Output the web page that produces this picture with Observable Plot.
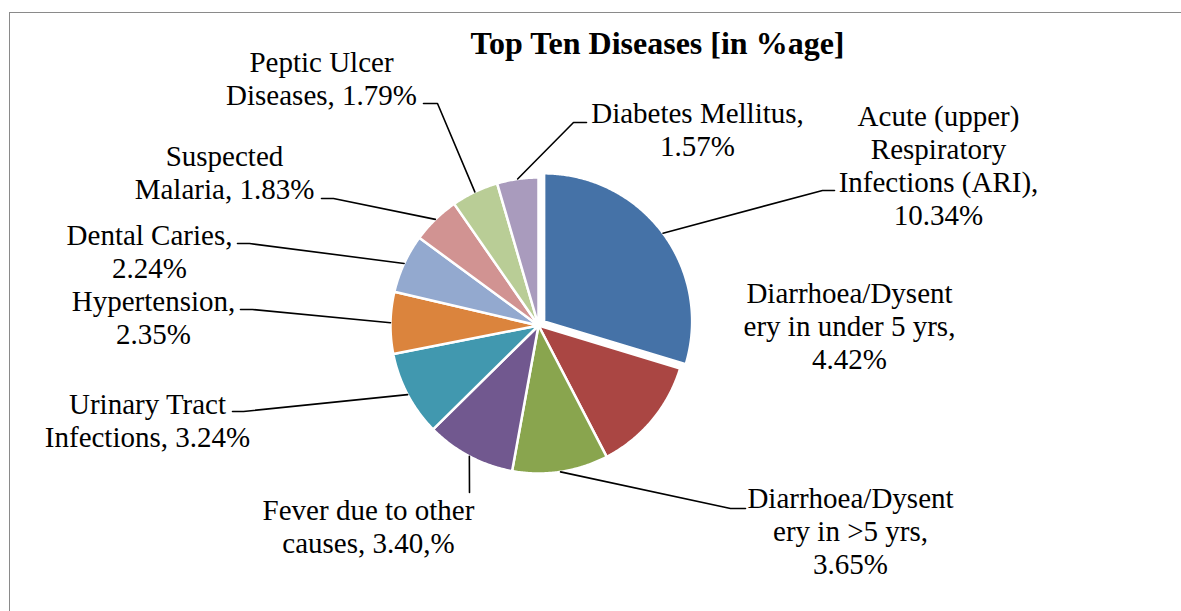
<!DOCTYPE html>
<html><head><meta charset="utf-8">
<script src="https://cdn.jsdelivr.net/npm/d3@7"></script>
<script src="https://cdn.jsdelivr.net/npm/@observablehq/plot@0.6"></script>
<style>
html,body{margin:0;padding:0;background:#fff;overflow:hidden;width:1181px;height:611px}
#wrap{position:relative;width:1181px;height:611px}
#border{position:absolute;left:9px;top:12px;width:1200px;height:700px;border-top:1.5px solid #8a8a8a;border-left:1.5px solid #8a8a8a;pointer-events:none}
#chart{position:absolute;left:0;top:0}
#chart svg, #chart svg text, #chart svg tspan{font-family:"Liberation Serif","Times New Roman",serif !important}
</style>
</head><body><div id="wrap"><div id="chart"></div><div id="border"></div></div>
<script>
// ---- data ----
const chartTitle = "Top Ten Diseases [in %age]";
const diseases = [
  "Acute (upper)\nRespiratory\nInfections (ARI),",
  "Diarrhoea/Dysent\nery in under 5 yrs,",
  "Diarrhoea/Dysent\nery in >5 yrs,",
  "Fever due to other\ncauses,",
  "Urinary Tract\nInfections,",
  "Hypertension,",
  "Dental Caries,",
  "Suspected\nMalaria,",
  "Peptic Ulcer\nDiseases,",
  "Diabetes Mellitus,"
];
const shares = [10.34, 4.42, 3.65, 3.40, 3.24, 2.35, 2.24, 1.83, 1.79, 1.57];
const shareLabels = ["10.34%", "4.42%", "3.65%", "3.40,%", "3.24%", "2.35%", "2.24%", "1.83%", "1.79%", "1.57%"];
// value joins the name on the same line (" ") or a new line ("\n")
const joiners = ["\n", "\n", "\n", " ", " ", "\n", "\n", " ", " ", "\n"];

// ---- style / layout ----
const sliceColors = ["#4572A7", "#AA4643", "#89A54E", "#71588F", "#4198AF", "#DB843D", "#93A9CF", "#D19392", "#B9CD96", "#A99BBD"];
const W = 1181, H = 611;
const pie = {cx: 538, cy: 325, r: 148, explode: [7, 0, 0, 0, 0, 0, 0, 0, 0, 0]};
const labelPos = [[938, 164], [849, 325], [850, 530], [368, 525], [147, 419], [153, 316], [149, 250], [224, 171], [321, 77], [697, 128]];
const leaderBends = [
  [[822, 190], [834, 190]], null, [[730, 508], [745, 508]], [[469, 492]],
  [[243, 411], [232, 411]], [[252, 309], [240, 309]], [[249, 243], [237, 243]],
  [[333, 198], [321, 198]], [[437, 103], [423, 103]], [[573, 122], [586, 122]]
];
const titlePos = [657, 43];

// ---- geometry from data ----
const arcs = d3.pie().sort(null).value(d => d)(shares);
const pt = (c, r, a) => ({x: c.x + r * Math.sin(a), y: c.y - r * Math.cos(a)});
const slicePts = [], leaderPts = [], labelRows = [];
arcs.forEach((a, i) => {
  const mid = (a.startAngle + a.endAngle) / 2;
  const c = pt({x: pie.cx, y: pie.cy}, pie.explode[i], mid);
  const name = diseases[i];
  slicePts.push({name, ...c});
  const n = Math.max(2, Math.ceil((a.endAngle - a.startAngle) / (Math.PI / 360)));
  for (let k = 0; k <= n; k++) {
    const ang = a.startAngle + (a.endAngle - a.startAngle) * k / n;
    slicePts.push({name, ...pt(c, pie.r, ang)});
  }
  if (leaderBends[i]) {
    leaderPts.push({name, ...pt(c, pie.r, mid)});
    leaderBends[i].forEach(([x, y]) => leaderPts.push({name, x, y}));
  }
  labelRows.push({text: name + joiners[i] + shareLabels[i], x: labelPos[i][0], y: labelPos[i][1]});
});

const serif = "Liberation Serif, Times New Roman, serif";
const chart = Plot.plot({
  width: W, height: H, margin: 0,
  x: {domain: [0, W], range: [0, W], axis: null},
  y: {domain: [0, H], range: [0, H], axis: null},
  color: {domain: diseases, range: sliceColors},
  style: {background: "white", fontFamily: serif},
  marks: [
    Plot.line(slicePts, {x: "x", y: "y", z: "name", fill: "name", stroke: "white", strokeWidth: 2.5, curve: "linear-closed", strokeLinejoin: "round"}),
    Plot.line(leaderPts, {x: "x", y: "y", z: "name", stroke: "black", strokeWidth: 1.6, strokeLinejoin: "miter"}),
    Plot.text(labelRows, {x: "x", y: "y", text: "text", fontSize: 29, fontFamily: serif, textAnchor: "middle", lineAnchor: "middle", lineHeight: 1.14, fill: "black"}),
    Plot.text([chartTitle], {x: () => titlePos[0], y: () => titlePos[1], text: d => d, fontSize: 32, fontWeight: "bold", fontFamily: serif, textAnchor: "middle", lineAnchor: "middle", fill: "black"})
  ]
});
document.getElementById("chart").appendChild(chart);
</script>
</body></html>
